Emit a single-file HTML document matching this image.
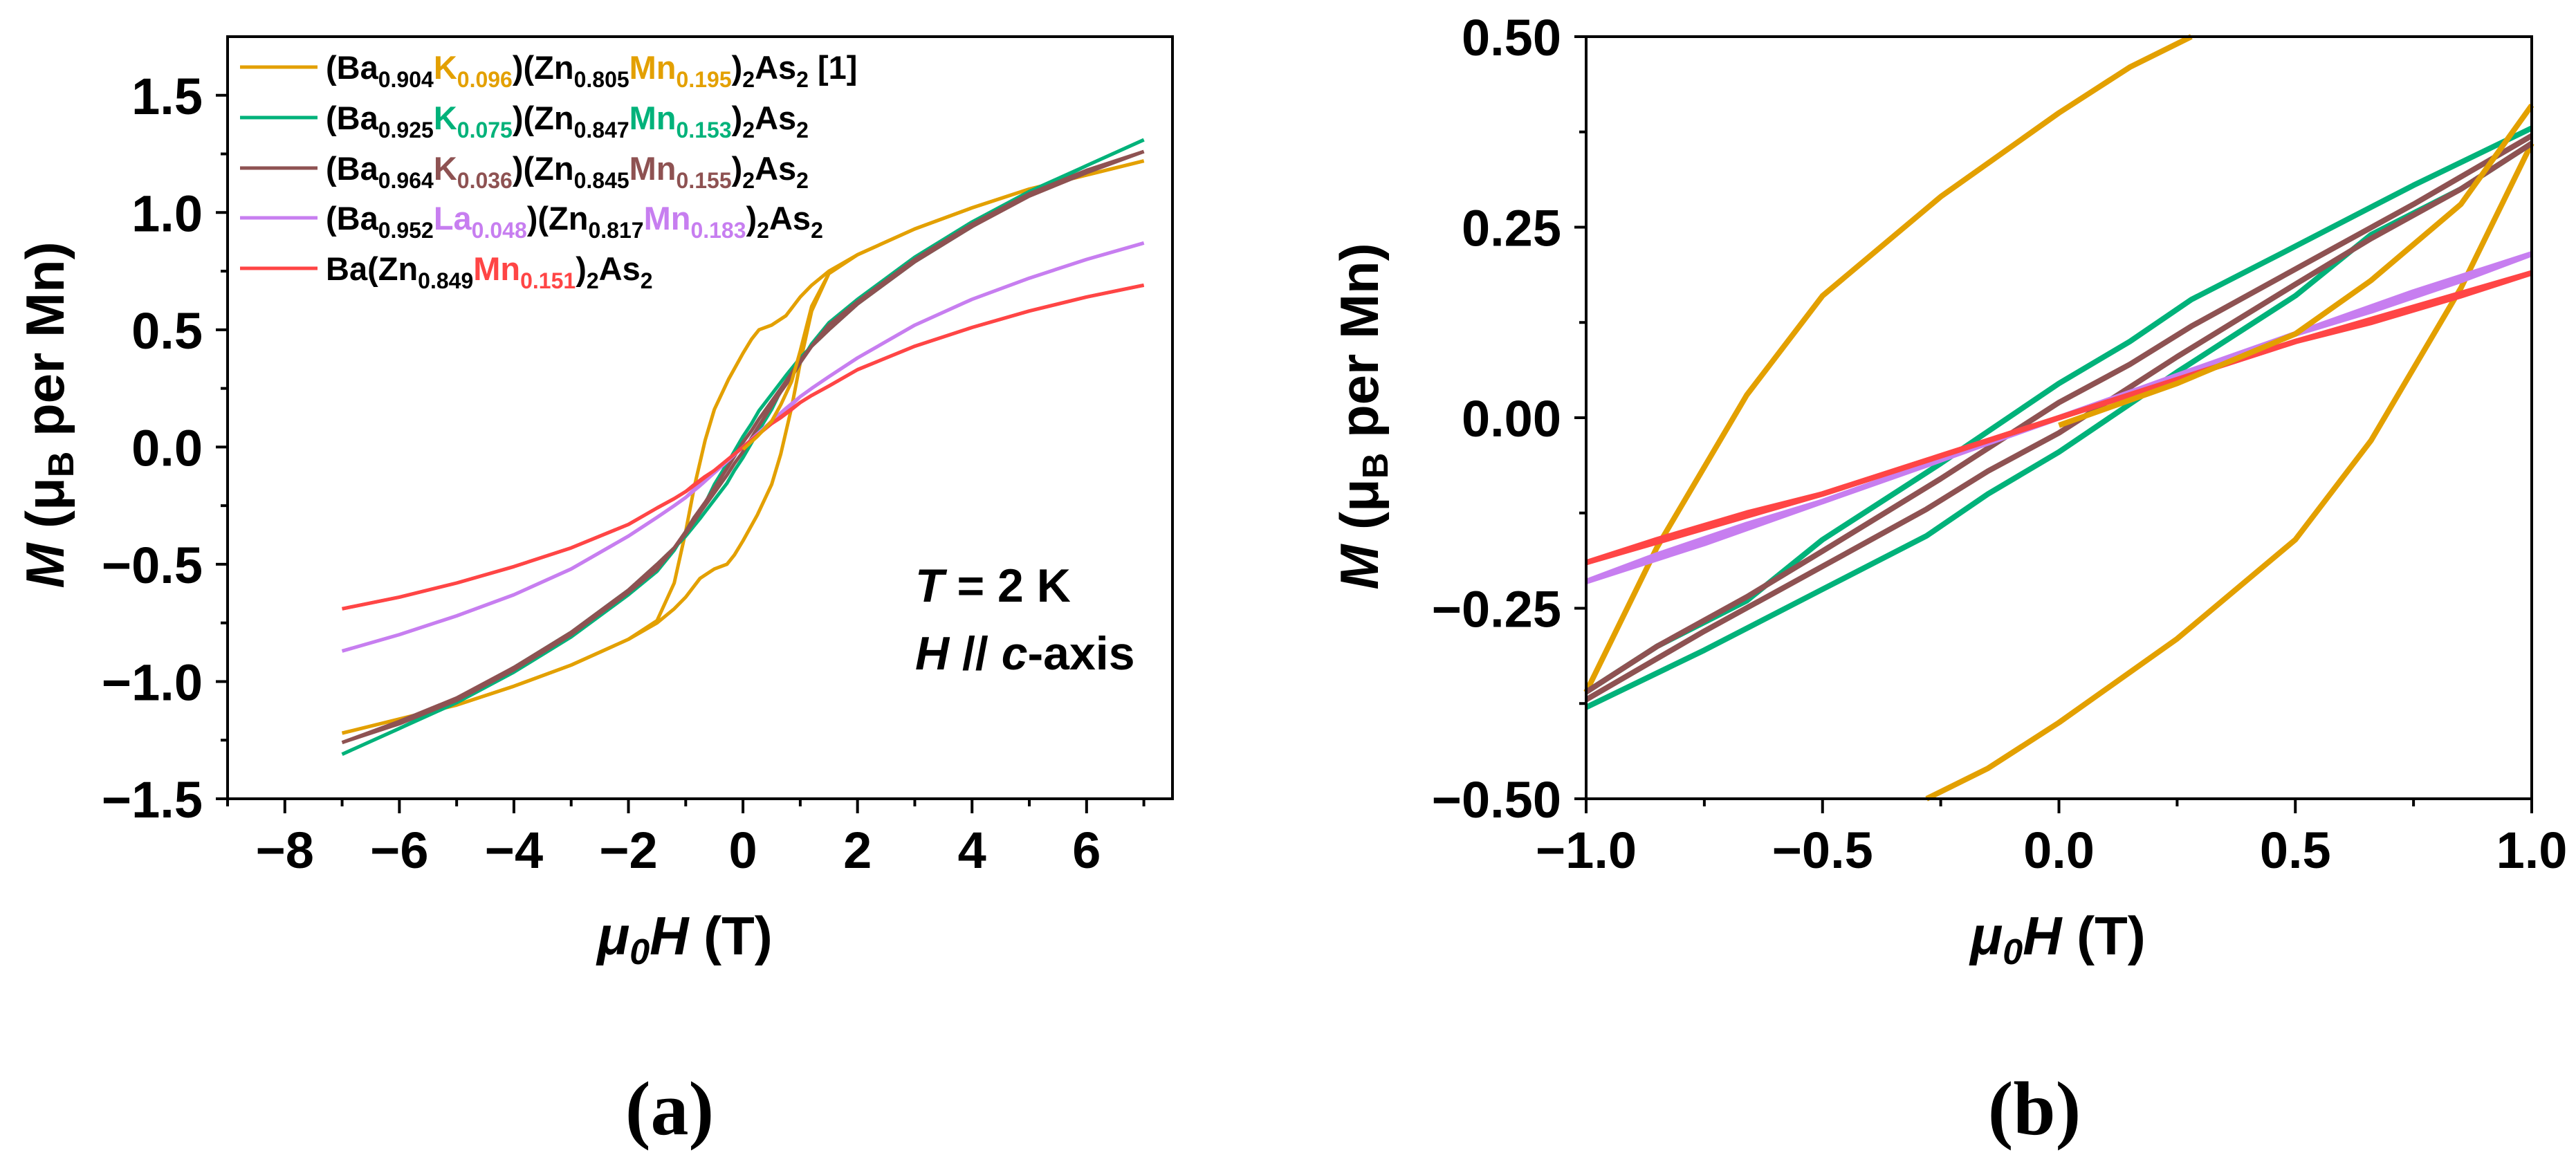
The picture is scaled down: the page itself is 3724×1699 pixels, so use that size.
<!DOCTYPE html>
<html><head><meta charset="utf-8"><style>
html,body{margin:0;padding:0;background:#fff;width:3724px;height:1699px;overflow:hidden;}
#wrap{position:relative;width:3724px;height:1699px;overflow:hidden;}
svg{display:block;font-family:"Liberation Sans",sans-serif;}
</style></head><body>
<div id="wrap">
<svg id="fig" style="position:absolute;left:0;top:0" width="3724" height="1699" viewBox="0 0 3724 1699" xmlns="http://www.w3.org/2000/svg">
<g id="panelA"></g>
<g id="panelB"></g>
</svg>
<svg style="position:absolute;left:0;top:0" width="3724" height="1699" xmlns="http://www.w3.org/2000/svg" font-family="Liberation Sans, sans-serif" font-weight="bold">
<g font-size="47">
 <g>
  <line x1="347" y1="97" x2="459" y2="97" stroke="#E3A000" stroke-width="5"/>
  <text x="471" y="114">(Ba<tspan font-size="32" dy="12">0.904</tspan><tspan fill="#E3A000" dy="-12">K</tspan><tspan fill="#E3A000" font-size="32" dy="12">0.096</tspan><tspan dy="-12">)(Zn</tspan><tspan font-size="32" dy="12">0.805</tspan><tspan fill="#E3A000" dy="-12">Mn</tspan><tspan fill="#E3A000" font-size="32" dy="12">0.195</tspan><tspan dy="-12">)</tspan><tspan font-size="32" dy="12">2</tspan><tspan dy="-12">As</tspan><tspan font-size="32" dy="12">2</tspan><tspan dy="-12"> [1]</tspan></text>
 </g>
 <g>
  <line x1="347" y1="170" x2="459" y2="170" stroke="#00B27A" stroke-width="5"/>
  <text x="471" y="187">(Ba<tspan font-size="32" dy="12">0.925</tspan><tspan fill="#00B27A" dy="-12">K</tspan><tspan fill="#00B27A" font-size="32" dy="12">0.075</tspan><tspan dy="-12">)(Zn</tspan><tspan font-size="32" dy="12">0.847</tspan><tspan fill="#00B27A" dy="-12">Mn</tspan><tspan fill="#00B27A" font-size="32" dy="12">0.153</tspan><tspan dy="-12">)</tspan><tspan font-size="32" dy="12">2</tspan><tspan dy="-12">As</tspan><tspan font-size="32" dy="12">2</tspan></text>
 </g>
 <g>
  <line x1="347" y1="243" x2="459" y2="243" stroke="#8E5252" stroke-width="5"/>
  <text x="471" y="260">(Ba<tspan font-size="32" dy="12">0.964</tspan><tspan fill="#8E5252" dy="-12">K</tspan><tspan fill="#8E5252" font-size="32" dy="12">0.036</tspan><tspan dy="-12">)(Zn</tspan><tspan font-size="32" dy="12">0.845</tspan><tspan fill="#8E5252" dy="-12">Mn</tspan><tspan fill="#8E5252" font-size="32" dy="12">0.155</tspan><tspan dy="-12">)</tspan><tspan font-size="32" dy="12">2</tspan><tspan dy="-12">As</tspan><tspan font-size="32" dy="12">2</tspan></text>
 </g>
 <g>
  <line x1="347" y1="315" x2="459" y2="315" stroke="#C77EF0" stroke-width="5"/>
  <text x="471" y="332">(Ba<tspan font-size="32" dy="12">0.952</tspan><tspan fill="#C77EF0" dy="-12">La</tspan><tspan fill="#C77EF0" font-size="32" dy="12">0.048</tspan><tspan dy="-12">)(Zn</tspan><tspan font-size="32" dy="12">0.817</tspan><tspan fill="#C77EF0" dy="-12">Mn</tspan><tspan fill="#C77EF0" font-size="32" dy="12">0.183</tspan><tspan dy="-12">)</tspan><tspan font-size="32" dy="12">2</tspan><tspan dy="-12">As</tspan><tspan font-size="32" dy="12">2</tspan></text>
 </g>
 <g>
  <line x1="347" y1="388" x2="459" y2="388" stroke="#FF4545" stroke-width="5"/>
  <text x="471" y="405">Ba(Zn<tspan font-size="32" dy="12">0.849</tspan><tspan fill="#FF4545" dy="-12">Mn</tspan><tspan fill="#FF4545" font-size="32" dy="12">0.151</tspan><tspan dy="-12">)</tspan><tspan font-size="32" dy="12">2</tspan><tspan dy="-12">As</tspan><tspan font-size="32" dy="12">2</tspan></text>
 </g>
</g>
<text x="1323" y="870" font-size="68"><tspan font-style="italic">T</tspan> = 2 K</text>
<text x="1323" y="968" font-size="68"><tspan font-style="italic">H</tspan> // <tspan font-style="italic">c</tspan>-axis</text>
<text transform="translate(92,600) rotate(-90)" text-anchor="middle" font-size="78"><tspan font-style="italic">M</tspan> (μ<tspan font-size="52" dy="14">B</tspan><tspan dy="-14"> per Mn)</tspan></text>
<text x="990" y="1380" text-anchor="middle" font-size="78"><tspan font-style="italic">μ</tspan><tspan font-style="italic" font-size="52" dy="14">0</tspan><tspan font-style="italic" dy="-14">H</tspan> (T)</text>
<text transform="translate(1992,602) rotate(-90)" text-anchor="middle" font-size="78"><tspan font-style="italic">M</tspan> (μ<tspan font-size="52" dy="14">B</tspan><tspan dy="-14"> per Mn)</tspan></text>
<text x="2975" y="1380" text-anchor="middle" font-size="78"><tspan font-style="italic">μ</tspan><tspan font-style="italic" font-size="52" dy="14">0</tspan><tspan font-style="italic" dy="-14">H</tspan> (T)</text>
<text x="968" y="1640" text-anchor="middle" font-size="110" font-family="Liberation Serif, serif">(a)</text>
<text x="2941" y="1640" text-anchor="middle" font-size="110" font-family="Liberation Serif, serif">(b)</text>
</svg>
</div>
<script>
// ---------- data ----------
const fieldGrid = [7,6,5,4,3,2,1.5,1.2,1,0.75,0.5,0.28,0.15,0,-0.25,-0.5,-0.66,-0.85,-1,-1.2,-1.5,-2,-3,-4,-5,-6,-7];
const orangeDesc = [1.22,1.16,1.10,1.02,0.93,0.82,0.75,0.69,0.64,0.56,0.52,0.50,0.46,0.40,0.29,0.16,0.03,-0.17,-0.36,-0.58,-0.74,-0.82,-0.93,-1.02,-1.10,-1.16,-1.22];
const greenDesc  = [1.31,1.20,1.08,0.94,0.79,0.61,0.50,0.43,0.38,0.305,0.225,0.155,0.10,0.045,-0.06,-0.16,-0.24,-0.30,-0.36,-0.44,-0.53,-0.63,-0.81,-0.96,-1.09,-1.20,-1.31];
const brownDesc  = [1.26,1.17,1.07,0.94,0.79,0.61,0.50,0.43,0.37,0.28,0.195,0.12,0.07,0.02,-0.08,-0.175,-0.235,-0.30,-0.36,-0.43,-0.52,-0.62,-0.80,-0.95,-1.08,-1.18,-1.26];
const purpleDesc = [0.87,0.80,0.72,0.63,0.52,0.38,0.30,0.25,0.215,0.165,0.11,0.062,0.033,0.0,-0.055,-0.11,-0.14,-0.18,-0.215,-0.25,-0.30,-0.38,-0.52,-0.63,-0.72,-0.80,-0.87];
const redDesc    = [0.69,0.64,0.58,0.51,0.43,0.33,0.26,0.22,0.19,0.145,0.10,0.056,0.03,0.0,-0.05,-0.10,-0.125,-0.16,-0.19,-0.22,-0.26,-0.33,-0.43,-0.51,-0.58,-0.64,-0.69];
const orangeVirginH = [0,0.25,0.5,0.66,0.85,1,1.2,1.5,2];
const orangeVirginM = [-0.01,0.045,0.11,0.18,0.28,0.41,0.6,0.74,0.82];
const xTicksA = [-8,-6,-4,-2,0,2,4,6];
const yTicksA = [-1.5,-1.0,-0.5,0.0,0.5,1.0,1.5];
const xTicksB = [-1.0,-0.5,0.0,0.5,1.0];
const yTicksB = [-0.50,-0.25,0.00,0.25,0.50];

const seriesList = [
 {name:'orange', color:'#E3A000', desc:orangeDesc},
 {name:'green', color:'#00B27A', desc:greenDesc},
 {name:'brown', color:'#8E5252', desc:brownDesc},
 {name:'purple', color:'#C77EF0', desc:purpleDesc},
 {name:'red', color:'#FF4545', desc:redDesc}
];
const NS='http://www.w3.org/2000/svg';
function mk(tag, attrs, parent){const e=document.createElementNS(NS,tag);for(const k in attrs)e.setAttribute(k,attrs[k]);parent.appendChild(e);return e;}

// clip a polyline (data coords) to rectangle, return path d in pixel coords
function clipPath(hs, ms, xr, yr, sx, sy){
  let d='', pen=false;
  for(let i=0;i<hs.length-1;i++){
    let x0=hs[i],y0=ms[i],x1=hs[i+1],y1=ms[i+1];
    let t0=0,t1=1,dx=x1-x0,dy=y1-y0,ok=true;
    const p=[-dx,dx,-dy,dy], q=[x0-xr[0],xr[1]-x0,y0-yr[0],yr[1]-y0];
    for(let k=0;k<4;k++){
      if(p[k]===0){ if(q[k]<0){ok=false;break;} }
      else{ const r=q[k]/p[k]; if(p[k]<0){ if(r>t1){ok=false;break;} if(r>t0)t0=r; } else { if(r<t0){ok=false;break;} if(r<t1)t1=r; } }
    }
    if(!ok){pen=false;continue;}
    const ax=sx(x0+t0*dx),ay=sy(y0+t0*dy),bx=sx(x0+t1*dx),by=sy(y0+t1*dy);
    if(!pen||t0>0) d+='M'+ax.toFixed(1)+','+ay.toFixed(1);
    d+='L'+bx.toFixed(1)+','+by.toFixed(1);
    pen = t1===1;
  }
  return d;
}

function drawPanel(g, box, xr, yr, xt, yt, xfmt, yfmt, minorX, minorY, lw, tag){
  const sx=v=>box.x+(v-xr[0])/(xr[1]-xr[0])*box.w;
  const sy=v=>box.y+box.h-(v-yr[0])/(yr[1]-yr[0])*box.h;
  const curves=mk('g',{},g);
  
  
  seriesList.forEach(s=>{
    const hA=fieldGrid.map(h=>-h).reverse();
    const mA=s.desc.map(m=>-m).reverse();
    const p1=mk('path',{d:clipPath(fieldGrid,s.desc,xr,yr,sx,sy),fill:'none',stroke:s.color,'stroke-width':lw,'stroke-linejoin':'round'},curves);
    
    
    const p2=mk('path',{d:clipPath(hA,mA,xr,yr,sx,sy),fill:'none',stroke:s.color,'stroke-width':lw,'stroke-linejoin':'round'},curves);
    
    
  });
  const pv=mk('path',{d:clipPath(orangeVirginH,orangeVirginM,xr,yr,sx,sy),fill:'none',stroke:seriesList[0].color,'stroke-width':lw},curves);
  
  
  const fr=mk('rect',{x:box.x,y:box.y,width:box.w,height:box.h,fill:'none',stroke:'#000','stroke-width':4},g);
  
  
  const yb=box.y+box.h;
  minorX.forEach(v=>{const t=mk('line',{x1:sx(v),x2:sx(v),y1:yb,y2:yb+11,stroke:'#000','stroke-width':4},g);
    
    });
  minorY.forEach(v=>{const t=mk('line',{x1:box.x-10,x2:box.x,y1:sy(v),y2:sy(v),stroke:'#000','stroke-width':4},g);
    
    });
  xt.forEach(v=>{const t=mk('line',{x1:sx(v),x2:sx(v),y1:yb,y2:yb+21,stroke:'#000','stroke-width':4},g);
    
    
    const l=mk('text',{x:sx(v),y:yb+100,'text-anchor':'middle','font-size':74,'font-weight':'bold'},g);
    l.textContent=xfmt(v);
    
    });
  yt.forEach(v=>{const t=mk('line',{x1:box.x-17,x2:box.x,y1:sy(v),y2:sy(v),stroke:'#000','stroke-width':4},g);
    
    
    const l=mk('text',{x:box.x-36,y:sy(v)+27,'text-anchor':'end','font-size':74,'font-weight':'bold'},g);
    l.textContent=yfmt(v);
    
    });
}
const minus=s=>s.replace('-','\u2212');
const gA=document.getElementById('panelA'), gB=document.getElementById('panelB');
const minA=[];for(let v=-9;v<=7;v++)if(v%2!==0)minA.push(v);
const minAY=[-1.25,-0.75,-0.25,0.25,0.75,1.25];
drawPanel(gA,{x:329,y:53,w:1366,h:1102},[-9,7.5],[-1.5,1.75],xTicksA,yTicksA,
  v=>minus(String(v)),v=>minus(v.toFixed(1)),minA,minAY,5,'panel-a');
drawPanel(gB,{x:2293,y:53,w:1367,h:1102},[-1,1],[-0.5,0.5],xTicksB,yTicksB,
  v=>minus(v.toFixed(1)),v=>minus(v.toFixed(2)),[-0.75,-0.25,0.25,0.75],[-0.375,-0.125,0.125,0.375],8,'panel-b');
</script>
</body></html>
